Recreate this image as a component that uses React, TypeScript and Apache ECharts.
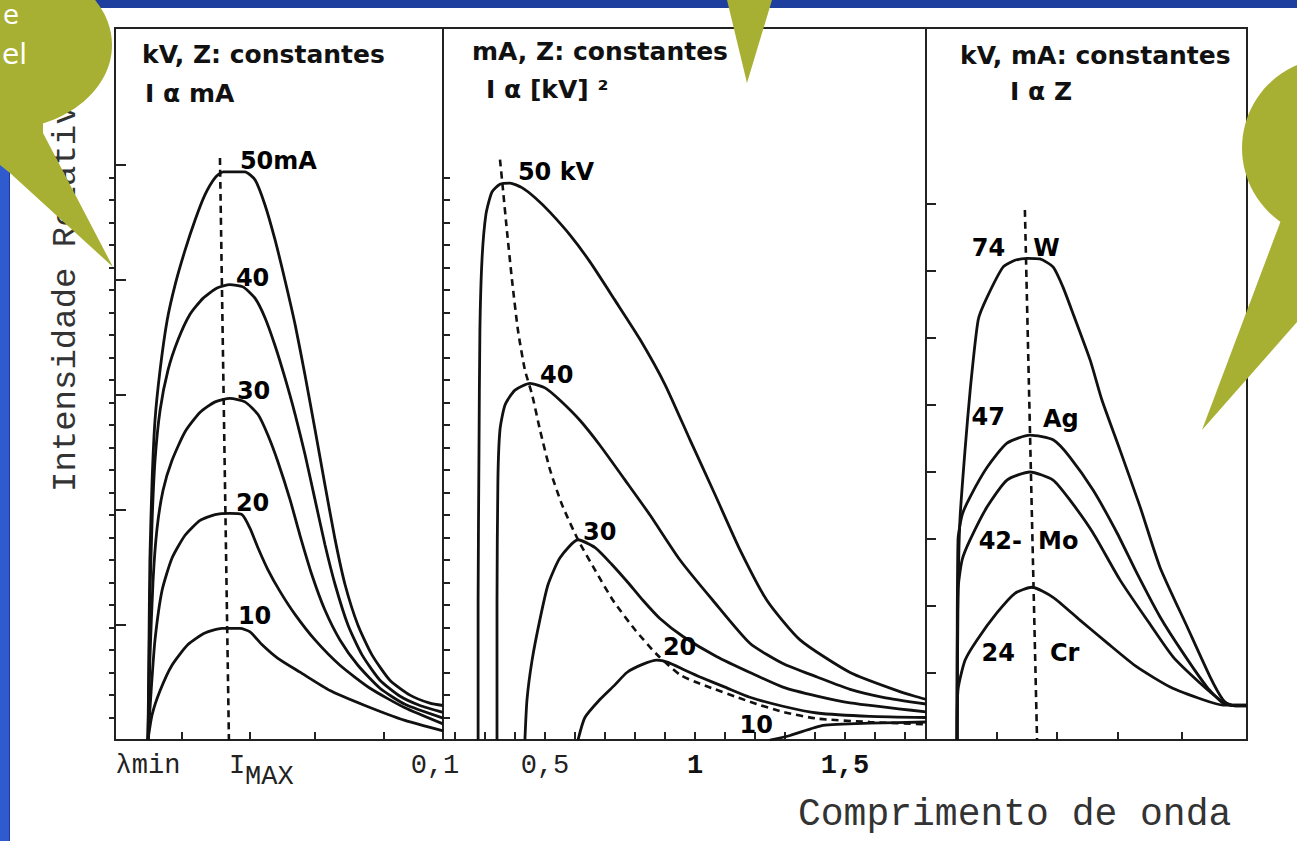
import { useEffect, useRef } from 'react';
import * as echarts from 'echarts';

type Ponto = [number, number];

// ---------- Painel 1: kV e Z constantes, I proporcional a mA ----------
const rotulosCorrente = ['50mA', '40', '30', '20', '10'];
const espectro50mA: Ponto[] = [
  [0.0103, 0], [0.0106, 7.8], [0.0109, 15.7], [0.0116, 22.6], [0.0125, 27.8], [0.0141, 32.2],
  [0.0163, 36.5], [0.0188, 39.6], [0.0219, 42.6], [0.025, 45.2], [0.0281, 47.4], [0.0313, 48.9],
  [0.0338, 49.4], [0.0406, 49.4], [0.0438, 48.7], [0.0469, 46.5], [0.05, 43.5], [0.0531, 40.0],
  [0.0563, 36.1], [0.0594, 31.7], [0.0625, 27.0], [0.0656, 22.2], [0.0688, 17.4], [0.0719, 13.5],
  [0.0759, 10.0], [0.0803, 7.4], [0.0859, 5.2], [0.0922, 3.9], [0.0984, 3.2], [0.1025, 3.0],
];
const espectro40mA: Ponto[] = [
  [0.0103, 0], [0.0106, 5.2], [0.0109, 12.2], [0.0116, 19.1], [0.0125, 24.3], [0.0141, 28.7],
  [0.0166, 32.2], [0.0197, 34.8], [0.0234, 37.0], [0.0275, 38.4], [0.0319, 39.3], [0.0359, 39.6],
  [0.04, 39.4], [0.0438, 38.4], [0.0469, 36.7], [0.05, 34.3], [0.0531, 31.5], [0.0563, 28.3],
  [0.0594, 24.8], [0.0625, 20.9], [0.0656, 17.0], [0.0688, 13.5], [0.0728, 10.0], [0.0772, 7.4],
  [0.0828, 5.2], [0.0891, 3.8], [0.0953, 3.0], [0.1025, 2.4],
];
const espectro30mA: Ponto[] = [
  [0.0103, 0], [0.0109, 7.0], [0.0119, 13.9], [0.0131, 18.3], [0.015, 21.7], [0.0178, 24.3],
  [0.0219, 26.8], [0.0266, 28.5], [0.0313, 29.4], [0.0359, 29.7], [0.0406, 29.4], [0.0447, 28.3],
  [0.0478, 26.5], [0.0509, 24.2], [0.0547, 20.9], [0.0578, 17.8], [0.0616, 14.3], [0.0656, 11.3],
  [0.0703, 8.7], [0.0759, 6.5], [0.0828, 4.5], [0.0906, 3.1], [0.1025, 1.9],
];
const espectro20mA: Ponto[] = [
  [0.0103, 0], [0.0113, 4.3], [0.0125, 8.7], [0.0147, 13.0], [0.0178, 15.8], [0.0219, 17.8],
  [0.0266, 19.1], [0.0313, 19.6], [0.0359, 19.7], [0.0397, 19.6], [0.0422, 18.4], [0.0447, 16.7],
  [0.0478, 14.8], [0.0516, 12.9], [0.0563, 10.9], [0.0625, 8.7], [0.0703, 6.5], [0.0797, 4.5],
  [0.0906, 2.8], [0.1025, 1.4],
];
const espectro10mA: Ponto[] = [
  [0.0103, 0], [0.0116, 2.2], [0.0141, 4.3], [0.0178, 6.5], [0.0228, 8.3], [0.0281, 9.3],
  [0.0334, 9.7], [0.0391, 9.7], [0.0422, 9.4], [0.0459, 8.3], [0.0509, 7.1], [0.0578, 5.9],
  [0.0672, 4.3], [0.0781, 3.0], [0.0906, 1.7], [0.1025, 0.8],
];
const lambdaMin1 = 0.0103;
const lambdaPico1 = 0.0356;
const tracejado1: Ponto[] = [[0.0328, 50.6], [0.0356, 0]];
const ticksX1 = [0.021, 0.042, 0.0625, 0.084];
const ticksY1 = [10, 20, 30, 40, 50];
const valoresX1 = [lambdaMin1, 0.1];
const rotulosX1 = ['λmin', '0,1'];
const rotuloPico1 = ['I', 'MAX'];

// ---------- Painel 2: mA e Z constantes, I proporcional a kV² ----------
const rotulosTensao = ['50 kV', '40', '30', '20', '10'];
const espectro50kV: Ponto[] = [
  [0.277, 0], [0.277, 12.4], [0.28, 25.8], [0.283, 36.4], [0.29, 42.7], [0.303, 46.7],
  [0.323, 48.7], [0.35, 49.4], [0.383, 49.5], [0.423, 49.1], [0.467, 48.2], [0.517, 46.9],
  [0.583, 44.9], [0.65, 42.5], [0.733, 39.1], [0.817, 35.6], [0.9, 31.6], [0.983, 26.7],
  [1.067, 21.8], [1.15, 16.9], [1.24, 12.4], [1.35, 8.9], [1.517, 6.0], [1.683, 4.3], [1.77, 3.6],
];
const espectro40kV: Ponto[] = [
  [0.34, 0], [0.34, 12.4], [0.343, 23.1], [0.35, 27.6], [0.367, 29.8], [0.4, 31.1],
  [0.45, 31.7], [0.5, 31.3], [0.55, 30.2], [0.617, 28.4], [0.683, 26.2], [0.767, 23.1],
  [0.85, 20.0], [0.95, 16.0], [1.06, 12.4], [1.183, 8.6], [1.293, 6.8], [1.407, 5.6],
  [1.517, 4.5], [1.627, 3.8], [1.77, 3.2],
];
const espectro30kV: Ponto[] = [
  [0.433, 0], [0.44, 3.6], [0.457, 7.1], [0.483, 10.7], [0.51, 13.8], [0.55, 16.2],
  [0.61, 17.8], [0.667, 17.1], [0.723, 15.6], [0.783, 13.8], [0.827, 12.4], [0.883, 10.8],
  [0.96, 9.2], [1.073, 7.4], [1.183, 6.0], [1.293, 4.7], [1.407, 3.9], [1.517, 3.3], [1.77, 2.5],
];
const espectro20kV: Ponto[] = [
  [0.61, 0], [0.633, 2.0], [0.683, 3.6], [0.733, 4.9], [0.773, 6.0], [0.823, 6.7],
  [0.873, 7.1], [0.91, 6.9], [0.967, 6.2], [1.017, 5.6], [1.1, 4.7], [1.183, 3.8],
  [1.293, 3.0], [1.407, 2.4], [1.583, 2.1], [1.77, 2.0],
];
const espectro10kV: Ponto[] = [
  [1.25, 0], [1.317, 0.4], [1.427, 1.3], [1.583, 1.5], [1.77, 1.6],
];
const tracejado2: Ponto[] = [
  [0.35, 51.6], [0.36, 48.9], [0.373, 45.3], [0.39, 40.9], [0.41, 36.4], [0.433, 32.9],
  [0.457, 30.7], [0.483, 27.6], [0.517, 24.0], [0.557, 20.9], [0.61, 17.8], [0.667, 15.1],
  [0.727, 12.4], [0.8, 9.8], [0.873, 7.6], [0.95, 5.8], [1.017, 5.0], [1.183, 3.4],
  [1.293, 2.5], [1.407, 1.9], [1.583, 1.6], [1.77, 1.4],
];
const ticksX2 = [0.2, 0.3, 0.4, 0.5, 0.6, 0.7, 0.8, 0.9, 1.0, 1.1, 1.2, 1.3, 1.4, 1.5, 1.6, 1.7];
const valoresX2 = [0.5, 1, 1.5];
const rotulosX2 = ['0,5', '1', '1,5'];
const ticksY2 = [2, 4, 6, 8, 10, 12, 14, 16, 18, 20, 22, 24, 26, 28, 30, 32, 34, 36, 38, 40, 42, 44, 46, 48, 50];

// ---------- Painel 3: kV e mA constantes, I proporcional a Z ----------
const numerosAtomicos = ['74', '47', '42-', '24'];
const simbolos = ['W', 'Ag', 'Mo', 'Cr'];
const espectroW: Ponto[] = [
  [0.0097, 0], [0.01, 20.9], [0.0106, 32.8], [0.0122, 43.3], [0.0138, 52.2], [0.0163, 62.7],
  [0.0191, 66.1], [0.0241, 70.6], [0.0278, 71.6], [0.0316, 71.9], [0.0356, 71.8], [0.0397, 70.6],
  [0.0428, 67.6], [0.0459, 63.7], [0.0513, 56.7], [0.055, 50.7], [0.0606, 43.3], [0.0669, 34.8],
  [0.0731, 25.8], [0.0816, 16.9], [0.0888, 9.4], [0.0928, 6.0], [0.095, 5.2], [0.1003, 5.2],
];
const espectroAg: Ponto[] = [
  [0.0097, 0], [0.01, 29.9], [0.0113, 33.6], [0.0138, 36.3], [0.0191, 40.7], [0.0253, 44.3],
  [0.0325, 45.5], [0.0397, 44.8], [0.045, 42.2], [0.0522, 37.3], [0.0597, 30.9], [0.0659, 24.9],
  [0.0731, 18.4], [0.0803, 13.0], [0.0878, 7.9], [0.0928, 5.5], [0.0966, 5.1], [0.1003, 5.1],
];
const espectroMo: Ponto[] = [
  [0.0097, 0], [0.01, 22.4], [0.0113, 26.9], [0.0138, 29.9], [0.0191, 34.8], [0.0253, 38.8],
  [0.0325, 40.0], [0.0397, 38.8], [0.045, 35.8], [0.0522, 30.9], [0.0606, 23.9], [0.0691, 17.9],
  [0.0772, 12.4], [0.0856, 8.5], [0.0919, 6.0], [0.0966, 5.1], [0.1003, 5.1],
];
const espectroCr: Ponto[] = [
  [0.0097, 0], [0.01, 7.5], [0.0122, 11.9], [0.0159, 14.9], [0.0222, 19.0], [0.0278, 21.9],
  [0.0331, 22.8], [0.0397, 21.3], [0.0481, 17.9], [0.0566, 14.5], [0.0659, 10.9], [0.0763, 7.9],
  [0.0866, 6.0], [0.0928, 5.2], [0.1003, 5.2],
];
const tracejado3: Ponto[] = [[0.0309, 79.1], [0.0347, 0]];
const ticksX3 = [0.022, 0.041, 0.06, 0.08];
const ticksY3 = [10, 20, 30, 40, 50, 60, 70, 80];

// deslocamentos (px) dos rótulos em relação ao ponto de referência de cada curva
const desloc1: Ponto[] = [[11, -11], [7, -7], [8, -7], [7, -10], [9, -12]];
const desloc2: Ponto[] = [[8, -11], [10, -8], [5, -8], [6, -13], [3, -15]];
const deslocZ: Ponto[] = [[-22, -10], [-25, -18], [-8, 69], [-17, 66]];
const deslocSimb: Ponto[] = [[6, -10], [13, -16], [8, 69], [18, 66]];

const OLIVA = '#a8b033';
const TINTA = '#111111';
const MONO = '"Liberation Mono", "DejaVu Sans Mono", monospace';
const SANS = '"DejaVu Sans", "Liberation Sans", sans-serif';

function pico(c: Ponto[]): Ponto {
  let b = c[0];
  for (const p of c) if (p[1] > b[1]) b = p;
  return b;
}

function curva(data: Ponto[], eixo: number, yEixo: number, largura = 2.8) {
  return {
    type: 'line', xAxisIndex: eixo, yAxisIndex: yEixo, data,
    symbol: 'none', showSymbol: false, smooth: 0.2, silent: true, z: 3,
    lineStyle: { color: TINTA, width: largura },
  };
}

function tracejado(data: Ponto[], eixo: number, yEixo: number) {
  return {
    type: 'line', xAxisIndex: eixo, yAxisIndex: yEixo, data,
    symbol: 'none', showSymbol: false, smooth: 0.2, silent: true, z: 3,
    lineStyle: { color: TINTA, width: 2.6, type: [7, 5] },
  };
}

function rotulos(itens: { p: Ponto; texto: string; d: Ponto; align: string }[], eixo: number, yEixo: number) {
  return {
    type: 'scatter', xAxisIndex: eixo, yAxisIndex: yEixo, symbolSize: 1, silent: true, z: 6,
    itemStyle: { color: 'rgba(0,0,0,0)', opacity: 1 },
    emphasis: { disabled: true },
    label: {
      show: true, position: 'inside', verticalAlign: 'middle', color: '#000000', opacity: 1,
      fontFamily: SANS, fontWeight: 'bold', fontSize: 24,
    },
    data: itens.map((it) => ({
      value: it.p,
      label: { formatter: it.texto, align: it.align, offset: it.d },
    })),
  };
}

function eixoX(grid: number, min: number, max: number, ticks: number[], extra: any = {}) {
  return {
    type: 'value', gridIndex: grid, min, max, position: 'bottom',
    axisLine: { show: false }, splitLine: { show: false },
    axisTick: { show: true, inside: true, length: 8, customValues: ticks, lineStyle: { color: '#222', width: 2 } },
    axisLabel: { show: false },
    ...extra,
  };
}

function eixoY(grid: number, max: number, ticks: number[], pos = 'left', comp = 10) {
  return {
    type: 'value', gridIndex: grid, min: 0, max, position: pos,
    axisLine: { show: false }, splitLine: { show: false }, axisLabel: { show: false },
    axisTick: { show: true, inside: true, length: comp, customValues: ticks, lineStyle: { color: '#222', width: 2 } },
  };
}

export default function App() {
  const ref = useRef<HTMLDivElement>(null);

  useEffect(() => {
    if (!ref.current) return;
    const chart = echarts.init(ref.current, undefined, { renderer: 'svg' });

    const curvas1 = [espectro50mA, espectro40mA, espectro30mA, espectro20mA, espectro10mA];
    const curvas2 = [espectro50kV, espectro40kV, espectro30kV, espectro20kV, espectro10kV];
    const curvas3 = [espectroW, espectroAg, espectroMo, espectroCr];

    const itens1 = curvas1.map((c, i) => ({
      p: [lambdaPico1, pico(c)[1]] as Ponto, texto: rotulosCorrente[i], d: desloc1[i], align: 'left',
    }));
    const itens2 = curvas2.map((c, i) => {
      const ultimo = i === curvas2.length - 1;
      return {
        p: ultimo ? c[0] : pico(c), texto: rotulosTensao[i], d: desloc2[i], align: ultimo ? 'right' : 'left',
      };
    });
    const itens3 = curvas3.flatMap((c, i) => [
      { p: pico(c), texto: numerosAtomicos[i], d: deslocZ[i], align: 'right' },
      { p: pico(c), texto: simbolos[i], d: deslocSimb[i], align: 'left' },
    ]);

    const gridBase = {
      top: 28, height: 712, show: true, borderColor: '#222', borderWidth: 2,
      backgroundColor: 'transparent', containLabel: false, outerBoundsMode: 'none',
    };

    const estiloRotulo = { fontFamily: MONO, fontSize: 27, color: '#222' };

    const option: any = {
      animation: false,
      backgroundColor: '#ffffff',
      grid: [
        { ...gridBase, left: 115, width: 328 },
        { ...gridBase, left: 443, width: 483 },
        { ...gridBase, left: 926, width: 321 },
      ],
      xAxis: [
        eixoX(0, 0, 0.1025, ticksX1, {
          axisLabel: {
            show: true, customValues: valoresX1, margin: 12, hideOverlap: false, ...estiloRotulo,
            formatter: (v: number) => {
              const i = valoresX1.findIndex((x) => Math.abs(x - v) < 1e-9);
              return rotulosX1[i] ?? '';
            },
          },
        }),
        eixoX(1, 0.16, 1.77, ticksX2, {
          axisLabel: {
            show: true, customValues: valoresX2, margin: 12, hideOverlap: false, ...estiloRotulo,
            formatter: (v: number) => {
              const i = valoresX2.findIndex((x) => Math.abs(x - v) < 1e-9);
              const t = rotulosX2[i] ?? '';
              return i === 0 ? t : `{b|${t}}`;
            },
            rich: { b: { fontFamily: MONO, fontSize: 27, fontWeight: 'bold', color: '#111' } },
          },
        }),
        eixoX(2, 0, 0.1003, ticksX3),
        // rótulo I_MAX do painel 1, alinhado à esquerda na linha tracejada
        eixoX(0, 0, 0.1025, [], {
          axisTick: { show: false },
          axisLabel: {
            show: true, customValues: [lambdaPico1], margin: 12, align: 'left', hideOverlap: false, ...estiloRotulo,
            formatter: () => `{i|${rotuloPico1[0]}}{m|${rotuloPico1[1]}}`,
            rich: {
              i: { ...estiloRotulo, verticalAlign: 'top' },
              m: { ...estiloRotulo, verticalAlign: 'top', padding: [11, 0, 0, 0] },
            },
          },
        }),
      ],
      yAxis: [
        eixoY(0, 61.91, ticksY1, 'left', 11),
        eixoY(0, 63.29, ticksY2, 'right', 6),
        eixoY(1, 63.29, ticksY2, 'left', 7),
        eixoY(2, 106.27, ticksY3, 'left', 10),
      ],
      series: [
        ...curvas1.map((c) => curva(c, 0, 0)),
        tracejado(tracejado1, 0, 0),
        rotulos(itens1, 0, 0),
        ...curvas2.map((c) => curva(c, 1, 2)),
        tracejado(tracejado2, 1, 2),
        rotulos(itens2, 1, 2),
        ...curvas3.map((c) => curva(c, 2, 3)),
        tracejado(tracejado3, 2, 3),
        rotulos(itens3, 2, 3),
      ],
      graphic: {
        elements: [
          // moldura azul do slide
          { type: 'rect', silent: true, z: 0, shape: { x: 0, y: 0, width: 1297, height: 8 }, style: { fill: '#1f3f9e' } },
          { type: 'rect', silent: true, z: 0, shape: { x: 0, y: 0, width: 10, height: 841 }, style: { fill: '#2f5bcf' } },
          { type: 'line', silent: true, z: 0, shape: { x1: 9.5, y1: 0, x2: 9.5, y2: 841 }, style: { stroke: '#1b3a9a', lineWidth: 1 } },
          // títulos dos painéis
          { type: 'text', silent: true, z: 10, x: 142, y: 54, style: { text: 'kV, Z: constantes', fontFamily: SANS, fontWeight: 'bold', fontSize: 25, fill: TINTA, align: 'left', verticalAlign: 'middle' } },
          { type: 'text', silent: true, z: 10, x: 145, y: 93, style: { text: 'I α mA', fontFamily: SANS, fontWeight: 'bold', fontSize: 25, fill: TINTA, align: 'left', verticalAlign: 'middle' } },
          { type: 'text', silent: true, z: 10, x: 472, y: 51, style: { text: 'mA, Z: constantes', fontFamily: SANS, fontWeight: 'bold', fontSize: 25, fill: TINTA, align: 'left', verticalAlign: 'middle' } },
          { type: 'text', silent: true, z: 10, x: 486, y: 89, style: { text: 'I α [kV] ²', fontFamily: SANS, fontWeight: 'bold', fontSize: 25, fill: TINTA, align: 'left', verticalAlign: 'middle' } },
          { type: 'text', silent: true, z: 10, x: 960, y: 55, style: { text: 'kV, mA: constantes', fontFamily: SANS, fontWeight: 'bold', fontSize: 25, fill: TINTA, align: 'left', verticalAlign: 'middle' } },
          { type: 'text', silent: true, z: 10, x: 1010, y: 91, style: { text: 'I α Z', fontFamily: SANS, fontWeight: 'bold', fontSize: 25, fill: TINTA, align: 'left', verticalAlign: 'middle' } },
          // nomes dos eixos
          { type: 'text', silent: true, z: 10, x: 66, y: 492, rotation: Math.PI / 2, style: { text: 'Intensidade Relativa', fontFamily: MONO, fontSize: 34, fill: '#333', align: 'left', verticalAlign: 'middle' } },
          { type: 'text', silent: true, z: 10, x: 798, y: 814, style: { text: 'Comprimento de onda', fontFamily: MONO, fontSize: 38, fill: '#333', align: 'left', verticalAlign: 'middle' } },
          // balões
          { type: 'ellipse', silent: true, z: 100, shape: { cx: 0, cy: 45, rx: 112, ry: 85 }, style: { fill: OLIVA } },
          { type: 'polygon', silent: true, z: 100, shape: { points: [[43, 110], [43, 133], [113, 267], [10, 173], [0, 165], [0, 110]] }, style: { fill: OLIVA } },
          { type: 'text', silent: true, z: 101, x: 3, y: 2, style: { text: 'e', fontFamily: SANS, fontSize: 26, fill: '#ffffff', align: 'left', verticalAlign: 'top' } },
          { type: 'text', silent: true, z: 101, x: 2, y: 40, style: { text: 'el', fontFamily: SANS, fontSize: 28, fill: '#ffffff', align: 'left', verticalAlign: 'top' } },
          { type: 'polygon', silent: true, z: 100, shape: { points: [[727, 0], [772, 0], [747, 83]] }, style: { fill: OLIVA } },
          { type: 'circle', silent: true, z: 100, shape: { cx: 1332, cy: 148, r: 90 }, style: { fill: OLIVA } },
          { type: 'polygon', silent: true, z: 100, shape: { points: [[1283, 215], [1297, 215], [1297, 322], [1202, 430]] }, style: { fill: OLIVA } },
        ],
      },
    };

    chart.setOption(option);
    return () => chart.dispose();
  }, []);

  return (
    <div
      ref={ref}
      style={{ position: 'absolute', left: 0, top: 0, width: 1297, height: 841, background: '#fff' }}
    />
  );
}
